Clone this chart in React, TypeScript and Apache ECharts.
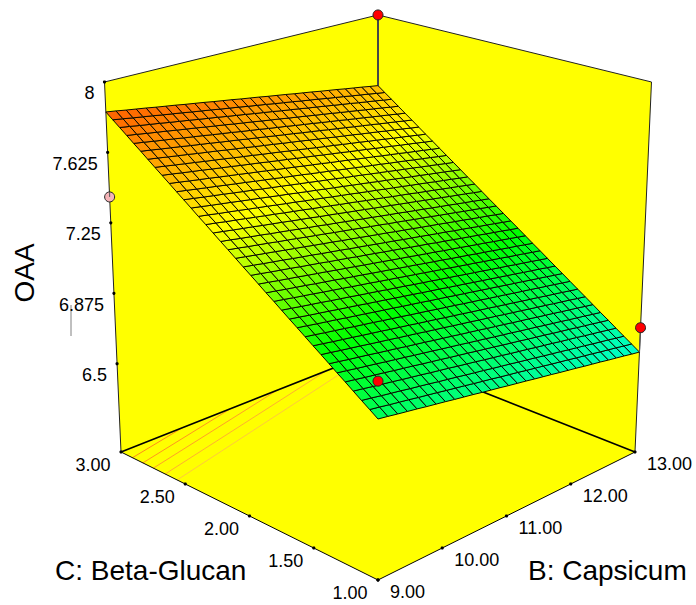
import React, { useEffect, useRef } from "react";
import * as echarts from "echarts";

// Axis ranges and tick labels
const bRange = [9, 13];
const cRange = [1, 3];
const zRange = [6, 8];
const bTicks = ["9.00", "10.00", "11.00", "12.00", "13.00"];
const cTicks = ["3.00", "2.50", "2.00", "1.50", "1.00"];
const zTicks = ["8", "7.625", "7.25", "6.875", "6.5"];

// Mesh lines of the surface
const bGrid = [9, 9.133, 9.267, 9.4, 9.533, 9.667, 9.8, 9.933, 10.067, 10.2, 10.333, 10.467, 10.6, 10.733, 10.867, 11, 11.133, 11.267, 11.4, 11.533, 11.667, 11.8, 11.933, 12.067, 12.2, 12.333, 12.467, 12.6, 12.733, 12.867, 13];
const cGrid = [1, 1.056, 1.111, 1.167, 1.222, 1.278, 1.333, 1.389, 1.444, 1.5, 1.556, 1.611, 1.667, 1.722, 1.778, 1.833, 1.889, 1.944, 2, 2.056, 2.111, 2.167, 2.222, 2.278, 2.333, 2.389, 2.444, 2.5, 2.556, 2.611, 2.667, 2.722, 2.778, 2.833, 2.889, 2.944, 3];
// OAA read along the B = 9 edge, one value per cGrid line
const oaaAlongC = [6.815, 6.844, 6.872, 6.901, 6.93, 6.958, 6.987, 7.016, 7.044, 7.073, 7.102, 7.13, 7.159, 7.188, 7.216, 7.245, 7.274, 7.302, 7.331, 7.36, 7.388, 7.417, 7.446, 7.474, 7.503, 7.532, 7.56, 7.589, 7.618, 7.646, 7.675, 7.704, 7.732, 7.761, 7.79, 7.818, 7.847];
// OAA change read along the surface in the B direction, one value per bGrid line
const oaaChangeAlongB = [0, -0.008, -0.017, -0.025, -0.033, -0.042, -0.05, -0.058, -0.067, -0.075, -0.083, -0.092, -0.1, -0.108, -0.117, -0.125, -0.133, -0.142, -0.15, -0.158, -0.167, -0.175, -0.183, -0.192, -0.2, -0.208, -0.217, -0.225, -0.233, -0.242, -0.25];

// Contours on the floor: start on the B = 9 edge, end on the C = 3 edge
const contourStartC = [2.9, 2.81, 2.72, 2.62, 2.52];
const contourEndB = [9.88, 10.6, 11.32, 12.12, 12.92];
const contourColors = ["#ff8c1a", "#ff9620", "#ffa028", "#ffb030", "#ffc83c"];

// Design points [B, C, OAA, surface OAA for the stem or null]
const designB = [13, 13, 9, 9];
const designC = [3, 1, 1, 3];
const designZ = [8, 6.7, 7.0, 7.405];
const designStemZ = [7.597, 6.565, null, null];
const designFill = ["#ff0000", "#ff0000", "#ff0000", "#f5b4b8"];

// Colour ramp of the surface
const rampZ = [6.55, 7.0, 7.42, 7.85];
const rampHue = [170, 122, 60, 22];

// Short grey mark left of the axis
const strayMarkX = [71, 71];
const strayMarkY = [305, 336];

const FONT = "Liberation Sans, Arial, sans-serif";

function project(b: number, c: number, z: number): number[] {
  const u = (b - bRange[0]) / (bRange[1] - bRange[0]);
  const v = (c - cRange[0]) / (cRange[1] - cRange[0]);
  const w = (z - zRange[0]) / (zRange[1] - zRange[0]);
  const d = 1 + 0.13 * (u + v) - 0.0682 * w;
  return [378 + (290.4 * (u - v)) / d, (580 - 69.24 * (u + v) - 423.7 * w) / d];
}
const lerp = (p: number[], q: number[], t: number) => [p[0] + (q[0] - p[0]) * t, p[1] + (q[1] - p[1]) * t];

function hueToRgb(h: number): string {
  const f = (n: number) => {
    const k = (n + h / 60) % 6;
    return Math.round(255 * (1 - Math.max(0, Math.min(k, 4 - k, 1))));
  };
  return `rgb(${f(5)},${f(3)},${f(1)})`;
}
function zColor(z: number): string {
  for (let i = 0; i < rampZ.length - 1; i++) {
    if (z <= rampZ[i + 1] || i === rampZ.length - 2) {
      const t = (z - rampZ[i]) / (rampZ[i + 1] - rampZ[i]);
      return hueToRgb(rampHue[i] + (rampHue[i + 1] - rampHue[i]) * t);
    }
  }
  return "#fff";
}

const [b0, b1] = bRange;
const [c0, c1] = cRange;
const [z0, z1] = zRange;

const corner = {
  F: project(b0, c0, z0),
  R: project(b1, c0, z0),
  L: project(b0, c1, z0),
  K: project(b1, c1, z0),
  LT: project(b0, c1, z1),
  RT: project(b1, c0, z1),
  KT: project(b1, c1, z1),
};

const faces = [
  [corner.F, corner.R, corner.K, corner.L],
  [corner.L, corner.K, corner.KT, corner.LT],
  [corner.R, corner.K, corner.KT, corner.RT],
];
const edges: { pts: number[][]; w: number; color: string }[] = [
  { pts: [corner.L, corner.LT, corner.KT, corner.RT, corner.R], w: 1, color: "#222" },
  { pts: [corner.L, corner.F, corner.R], w: 1, color: "#000" },
];
const backEdges: { pts: number[][]; w: number; color: string }[] = [
  { pts: [corner.L, corner.K, corner.R], w: 1.6, color: "#000" },
  { pts: [corner.K, corner.KT], w: 2, color: "#333" },
];

const zTickPos = zTicks.map((_, i) => lerp(corner.LT, project(b0, c1, 6.5), i / (zTicks.length - 1)));
const cTickPos = cTicks.map((_, i) => lerp(corner.L, corner.F, i / (cTicks.length - 1)));
const bTickPos = bTicks.map((_, i) => lerp(corner.F, corner.R, i / (bTicks.length - 1)));

const tickLabels = [
  ...zTicks.map((t, i) => ({ t, x: zTickPos[i][0] - 10, y: zTickPos[i][1] + 11.5, align: "right" })),
  ...cTicks.map((t, i) => ({ t, x: cTickPos[i][0] - 28, y: cTickPos[i][1] + 12.5, align: "center" })),
  ...bTicks.map((t, i) => ({ t, x: bTickPos[i][0] + 12, y: bTickPos[i][1] + 12, align: "left" })),
];

const surfaceCells: number[][] = [];
for (let i = 0; i < cGrid.length - 1; i++) {
  for (let j = 0; j < bGrid.length - 1; j++) surfaceCells.push([i, j]);
}
const zAt = (i: number, j: number) => oaaAlongC[i] + oaaChangeAlongB[j];

function custom(z: number, data: any[], render: (d: any, api: any) => any) {
  return {
    type: "custom",
    coordinateSystem: "cartesian2d",
    silent: true,
    clip: false,
    z,
    data: data.map((_, i) => [i, 0]),
    renderItem: (params: any, api: any) => render(data[params.dataIndex], api),
  };
}

function line(api: any, pts: number[][], color: string, w: number) {
  return {
    type: "polyline",
    shape: { points: pts.map((p) => api.coord(p)) },
    style: { stroke: color, lineWidth: w, fill: "none" },
  };
}

function buildOption() {
  return {
    animation: false,
    backgroundColor: "#ffffff",
    grid: { left: 0, right: 0, top: 0, bottom: 0 },
    xAxis: { type: "value", min: 0, max: 696, show: false },
    yAxis: { type: "value", min: 0, max: 605, inverse: true, show: false },
    series: [
      custom(1, faces, (f, api) => ({
        type: "polygon",
        shape: { points: f.map((p: number[]) => api.coord(p)) },
        style: { fill: "#ffff00", stroke: "none" },
      })),
      custom(2, contourStartC.map((c, i) => i), (i, api) =>
        line(api, [project(b0, contourStartC[i], z0), project(contourEndB[i], c1, z0)], contourColors[i], 1)
      ),
      custom(3, [...backEdges, ...edges], (e, api) => line(api, e.pts, e.color, e.w)),
      custom(4, surfaceCells, ([i, j], api) => ({
        type: "polygon",
        shape: {
          points: [
            project(bGrid[j], cGrid[i], zAt(i, j)),
            project(bGrid[j + 1], cGrid[i], zAt(i, j + 1)),
            project(bGrid[j + 1], cGrid[i + 1], zAt(i + 1, j + 1)),
            project(bGrid[j], cGrid[i + 1], zAt(i + 1, j)),
          ].map((p) => api.coord(p)),
        },
        style: {
          fill: zColor((zAt(i, j) + zAt(i + 1, j + 1)) / 2),
          stroke: "#0a0a00",
          lineWidth: 1,
        },
      })),
      custom(5, [...zTickPos, ...cTickPos, ...bTickPos], (p, api) => {
        const c = api.coord(p);
        return { type: "circle", shape: { cx: c[0], cy: c[1], r: 1.6 }, style: { fill: "#000" } };
      }),
      custom(6, designB.map((b, i) => i).filter((i) => designStemZ[i] !== null), (i, api) =>
        line(api, [project(designB[i], designC[i], designZ[i]), project(designB[i], designC[i], designStemZ[i] as number)], "#555", 1.2)
      ),
      custom(7, designB.map((b, i) => i), (i, api) => {
        const c = api.coord(project(designB[i], designC[i], designZ[i]));
        return {
          type: "circle",
          shape: { cx: c[0], cy: c[1], r: 5 },
          style: { fill: designFill[i], stroke: "#222", lineWidth: 1 },
        };
      }),
      custom(8, [0], (_, api) => {
        const p = project(designB[3], designC[3], designZ[3]);
        return line(api, [[p[0], p[1] - 5], p], "#555", 1);
      }),
      custom(8, [0], (_, api) =>
        line(api, [[strayMarkX[0], strayMarkY[0]], [strayMarkX[1], strayMarkY[1]]], "#808080", 1)
      ),
      custom(9, tickLabels, (l, api) => {
        const c = api.coord([l.x, l.y]);
        return {
          type: "text",
          x: c[0],
          y: c[1],
          style: { text: l.t, fontFamily: FONT, fontSize: 18, fill: "#000", align: l.align, verticalAlign: "middle" },
        };
      }),
      custom(9, [
        { t: "C: Beta-Glucan", x: 55, y: 570, r: 0, a: "left" },
        { t: "B: Capsicum", x: 528, y: 570, r: 0, a: "left" },
        { t: "OAA", x: 24, y: 273, r: Math.PI / 2, a: "center" },
      ], (l, api) => {
        const c = api.coord([l.x, l.y]);
        return {
          type: "text",
          x: c[0],
          y: c[1],
          rotation: l.r,
          style: { text: l.t, fontFamily: FONT, fontSize: 28, fill: "#000", align: l.a, verticalAlign: "middle" },
        };
      }),
    ],
  };
}

export default function App() {
  const ref = useRef<HTMLDivElement>(null);
  useEffect(() => {
    document.body.style.margin = "0";
    const chart = echarts.init(ref.current as HTMLDivElement, undefined, { renderer: "svg" });
    chart.setOption(buildOption() as any);
    return () => chart.dispose();
  }, []);
  return <div ref={ref} style={{ width: 696, height: 605 }} />;
}
